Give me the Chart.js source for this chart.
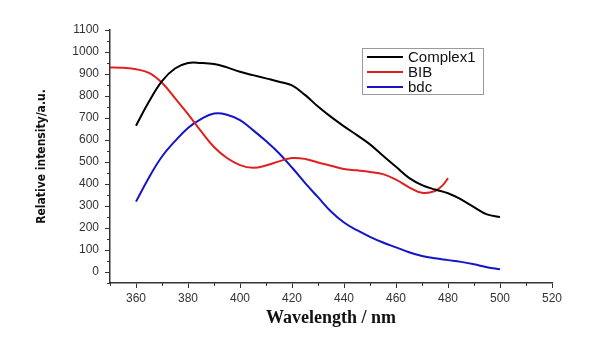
<!DOCTYPE html>
<html>
<head>
<meta charset="utf-8">
<script src="https://cdn.jsdelivr.net/npm/chart.js@4.4.1/dist/chart.umd.min.js"></script>
<style>
html,body{margin:0;padding:0;background:#fff;}
#wrap{width:613px;height:343px;position:relative;}
</style>
</head>
<body>
<div id="wrap"><canvas id="c" width="613" height="343"></canvas></div>
<script>
// ---- data ----
const seriesNames = ["Complex1", "BIB", "bdc"];
const complexX = [360,365,370,375,380,385,390,395,400,405,410,415,420,425,430,435,440,445,450,455,460,465,470,475,480,485,490,495,500];
const complexY = [665,775,868,925,950,950,945,930,910,895,880,865,848,805,752,705,662,622,580,528,478,428,395,375,358,330,295,262,250];
const bibX = [350,355,360,365,370,375,380,385,390,395,400,405,410,415,420,425,430,435,440,445,450,455,460,465,470,475,478,480];
const bibY = [930,928,922,905,860,790,718,640,568,518,486,474,484,503,518,514,498,483,468,462,455,445,420,385,360,368,395,427];
const bdcX = [360,365,370,375,380,385,390,395,400,405,410,415,420,425,430,435,440,445,450,455,460,465,470,475,480,485,490,495,500];
const bdcY = [320,430,525,595,655,695,720,715,690,645,595,540,475,405,340,275,225,190,160,134,112,90,73,62,54,46,35,22,12];
const xTicks = [360,380,400,420,440,460,480,500,520];
const yTicks = [0,100,200,300,400,500,600,700,800,900,1000,1100];
const xMinor = [350,370,390,410,430,450,470,490,510];
const yMinor = [-50,50,150,250,350,450,550,650,750,850,950,1050];
const colors = ["#000000", "#e0201e", "#1414c8"];

function pts(xs, ys){ return xs.map((x,i)=>({x:x, y:ys[i]})); }

const minorTicks = {
  id:'minorTicks',
  afterDraw(chart){
    const ctx = chart.ctx, xs = chart.scales.x, ys = chart.scales.y;
    ctx.save();
    ctx.strokeStyle = '#333'; ctx.lineWidth = 1;
    const left = chart.chartArea.left, bottom = chart.chartArea.bottom;
    yMinor.forEach(v=>{
      const p = Math.round(ys.getPixelForValue(v))+0.5;
      ctx.beginPath(); ctx.moveTo(left-3,p); ctx.lineTo(left,p); ctx.stroke();
    });
    xMinor.forEach(v=>{
      const p = Math.round(xs.getPixelForValue(v))+0.5;
      ctx.beginPath(); ctx.moveTo(p,bottom); ctx.lineTo(p,bottom+3); ctx.stroke();
    });
    ctx.restore();
  }
};

const boxLegend = {
  id:'boxLegend',
  afterDraw(chart){
    const ctx = chart.ctx;
    ctx.save();
    const bx = 362, by = 48, bw = 121, bh = 46;
    ctx.strokeStyle = '#9a9a9a'; ctx.lineWidth = 1;
    ctx.strokeRect(bx+0.5, by+0.5, bw, bh);
    ctx.font = '15px "Liberation Sans", Arial, sans-serif';
    ctx.textBaseline = 'middle';
    const rows = [57, 72, 87];
    chart.data.datasets.forEach((ds,i)=>{
      ctx.strokeStyle = ds.borderColor; ctx.lineWidth = 2;
      ctx.beginPath(); ctx.moveTo(367, rows[i]); ctx.lineTo(403, rows[i]); ctx.stroke();
      ctx.fillStyle = '#111';
      ctx.fillText(ds.label, 408, rows[i]+1);
    });
    ctx.restore();
  }
};

new Chart(document.getElementById('c'), {
  type:'line',
  data:{
    datasets:[
      {label:seriesNames[0], data:pts(complexX,complexY), borderColor:colors[0]},
      {label:seriesNames[1], data:pts(bibX,bibY), borderColor:colors[1]},
      {label:seriesNames[2], data:pts(bdcX,bdcY), borderColor:colors[2]}
    ].map(d=>Object.assign(d,{borderWidth:2, pointRadius:0, tension:0.4, fill:false}))
  },
  options:{
    responsive:false, animation:false,
    layout:{padding:{top:30, right:61, bottom:0, left:0}},
    plugins:{legend:{display:false}, tooltip:{enabled:false}},
    scales:{
      x:{
        type:'linear', min:350, max:520,
        afterBuildTicks:s=>{ s.ticks = xTicks.map(v=>({value:v})); },
        afterFit:s=>{ s.height = 60; },
        grid:{drawOnChartArea:false, drawTicks:true, tickLength:5, color:'#333'},
        border:{display:true, color:'#333', width:1.5},
        ticks:{padding:3, color:'#333', callback:v=>String(v), font:{family:'"Liberation Sans", Arial, sans-serif', size:12}, maxRotation:0},
        title:{display:true, text:'Wavelength / nm', color:'#111', padding:{top:0,bottom:14}, font:{family:'"Liberation Serif", "Times New Roman", serif', size:18, weight:'bold'}}
      },
      y:{
        type:'linear', min:-50, max:1100,
        afterBuildTicks:s=>{ s.ticks = yTicks.map(v=>({value:v})); },
        afterFit:s=>{ s.width = 110; },
        grid:{drawOnChartArea:false, drawTicks:true, tickLength:5, color:'#333'},
        border:{display:true, color:'#333', width:1.5},
        ticks:{padding:6, color:'#333', callback:v=>String(v), font:{family:'"Liberation Sans", Arial, sans-serif', size:12}},
        title:{display:true, text:'Relative intensity/a.u.', color:'#111', padding:{top:35,bottom:0}, font:{family:'"DejaVu Sans Condensed", "Liberation Sans", sans-serif', size:12, weight:'bold'}}
      }
    }
  },
  plugins:[minorTicks, boxLegend]
});
</script>
</body>
</html>
